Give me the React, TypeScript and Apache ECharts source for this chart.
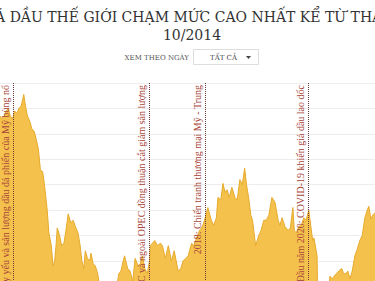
import React, { useEffect, useRef } from "react";
import * as echarts from "echarts";

const titleLines = ["GIÁ DẦU THẾ GIỚI CHẠM MỨC CAO NHẤT KỂ TỪ THÁNG", "10/2014"];
const filterLabel = "XEM THEO NGÀY";
const filterValue = "TẤT CẢ";

const dates = [
  "2014-01-01","2014-01-15","2014-02-01","2014-02-15","2014-03-01","2014-03-15","2014-04-01","2014-04-15","2014-05-01","2014-05-15","2014-06-01","2014-06-19","2014-07-01","2014-07-15","2014-08-01","2014-08-15","2014-09-01","2014-09-15","2014-10-01","2014-10-15","2014-11-01","2014-11-15","2014-12-01","2014-12-15",
  "2015-01-01","2015-01-13","2015-01-25","2015-02-05","2015-02-12","2015-03-01","2015-03-15","2015-04-01","2015-04-15","2015-05-01","2015-05-20","2015-06-05","2015-06-25","2015-07-10","2015-07-25","2015-08-06","2015-08-20","2015-08-31","2015-09-15","2015-10-01","2015-10-10","2015-10-25","2015-11-10","2015-11-27","2015-12-10","2015-12-22",
  "2016-01-05","2016-01-20","2016-02-05","2016-02-15","2016-03-01","2016-03-22","2016-04-05","2016-04-25","2016-05-10","2016-05-26","2016-06-05","2016-06-27","2016-07-14","2016-08-02","2016-08-19","2016-09-10","2016-09-25","2016-10-10","2016-10-27","2016-11-14","2016-11-30","2016-12-05","2016-12-20",
  "2017-01-06","2017-01-25","2017-02-15","2017-03-01","2017-03-22","2017-04-12","2017-05-04","2017-05-24","2017-06-21","2017-07-10","2017-07-26","2017-08-15","2017-08-31","2017-09-25","2017-10-10","2017-11-03","2017-11-20","2017-12-10","2017-12-28",
  "2018-01-18","2018-02-12","2018-03-01","2018-03-20","2018-03-31","2018-04-20","2018-05-06","2018-05-20","2018-06-04","2018-06-20","2018-07-08","2018-07-30","2018-08-15","2018-09-03","2018-09-20","2018-10-07","2018-10-20","2018-11-04","2018-11-20","2018-12-02","2018-12-24",
  "2019-01-15","2019-02-01","2019-02-20","2019-03-10","2019-03-28","2019-04-19","2019-05-11","2019-06-02","2019-06-15","2019-06-30","2019-07-21","2019-08-12","2019-08-28","2019-09-15","2019-09-25","2019-10-10","2019-10-26","2019-11-15","2019-12-01","2019-12-18",
  "2020-01-06","2020-01-22","2020-02-03","2020-02-12","2020-03-05","2020-03-09","2020-03-18","2020-04-01","2020-04-21","2020-05-05","2020-05-20","2020-06-05","2020-06-20","2020-07-05","2020-07-20","2020-08-05","2020-08-15","2020-08-28","2020-09-10","2020-09-25","2020-10-10","2020-10-25","2020-11-10","2020-11-29","2020-12-15",
  "2021-01-03","2021-01-20","2021-02-08","2021-02-25","2021-03-08","2021-03-23","2021-04-05","2021-04-21"
];

const prices = [
  107,106,107,109,110,107,106,109,108,110,111,115.5,111,107,105,102,101,98,94,86,85,79,71,61,
  56,48,50,57,63,60,56,57,62,68.5,65,66,63,61,56,50,47,54,51,50,53,49,48,45,40,36,
  35,28,34,33,37,41,38,45,46,50,52,47,46,42,51,48,49,52,47,45,50.5,56,57,
  58,56,57,56,51,56,50,54,46,47,50,51,52,57,56,59.5,62,63.5,66.5,
  71,66,64,67,75,74,80.5,77,78,75,79,75,74,82,80,86.5,80,75,68,66,56,
  60,62,66,66,68,75,73,66,64,67,63.5,62,63,71,62,61,63.5,64,67,66,
  70,63,58,59,52,36,27,25,21,30,36,44,43,44,45,46,46.5,47,45,45,46,43,46,52,54.5,
  58,60,67,70,71.5,66.5,68,69
];

const events = [
  { date: "2014-04-05", text: "Nhu cầu suy yếu và sản lượng dầu đá phiến của Mỹ bùng nổ" },
  { date: "2016-11-30", text: "OPEC và ngoài OPEC đồng thuận cắt giảm sản lượng" },
  { date: "2018-01-01", text: "2018: Chiến tranh thương mại Mỹ - Trung" },
  { date: "2020-01-01", text: "Đầu năm 2020: COVID-19 khiến giá dầu lao dốc" },
];

const xMin = "2014-01-01";
const xMax = "2021-04-21";

export default function App() {
  const ref = useRef<HTMLDivElement>(null);
  useEffect(() => {
    if (!ref.current) return;
    const chart = echarts.init(ref.current, null, { renderer: "svg" });
    const serif = '"DejaVu Serif", serif';
    chart.setOption({
      animation: false,
      backgroundColor: "#fff",
      grid: { left: 0, right: 0, top: 83, height: 305 },
      xAxis: {
        type: "time",
        min: xMin,
        max: xMax,
        axisLine: { show: false },
        axisTick: { show: false },
        axisLabel: { show: false },
        splitLine: { show: false },
      },
      yAxis: {
        type: "value",
        min: 0,
        max: 120,
        interval: 10,
        axisLine: { show: false },
        axisTick: { show: false },
        axisLabel: { show: false },
        splitLine: { lineStyle: { color: "#ededed", width: 1 } },
      },
      series: [
        {
          type: "line",
          data: dates.map((d, i) => [d, prices[i]]),
          showSymbol: false,
          symbol: "none",
          lineStyle: { color: "#e6aa2c", width: 1 },
          areaStyle: { color: "#f4c14c", opacity: 1 },
          markLine: {
            silent: true,
            symbol: ["none", "none"],
            lineStyle: { type: "dotted", color: "#6e3a36", width: 1 },
            label: {
              position: "insideEndTop",
              distance: [2, 3],
              color: "#a8443a",
              fontFamily: '"Liberation Serif", serif',
              fontSize: 10,
              formatter: (p: any) => p.name,
            },
            data: events.map((e) => ({ name: e.text, xAxis: e.date })),
          },
        },
      ],
      graphic: [
        {
          type: "text",
          style: {
            text: titleLines[0],
            x: 192,
            y: 16.5,
            align: "center",
            verticalAlign: "middle",
            fontSize: 14,
            fontFamily: serif,
            fill: "#333",
          },
        },
        {
          type: "text",
          style: {
            text: titleLines[1],
            x: 192,
            y: 35,
            align: "center",
            verticalAlign: "middle",
            fontSize: 14,
            fontFamily: serif,
            fill: "#333",
          },
        },
        {
          type: "text",
          style: {
            text: filterLabel,
            x: 189,
            y: 57.5,
            align: "right",
            verticalAlign: "middle",
            fontSize: 7,
            fontFamily: serif,
            fill: "#555",
          },
        },
        {
          type: "rect",
          shape: { x: 193.5, y: 49.5, width: 65, height: 15 },
          style: { fill: "#fff", stroke: "#dddddd", lineWidth: 1 },
        },
        {
          type: "text",
          style: {
            text: filterValue,
            x: 223.5,
            y: 57.5,
            align: "center",
            verticalAlign: "middle",
            fontSize: 7,
            fontFamily: serif,
            fill: "#444",
          },
        },
        {
          type: "polygon",
          shape: { points: [[246, 56], [251, 56], [248.5, 59]] },
          style: { fill: "#444" },
        },
      ],
    });
    return () => chart.dispose();
  }, []);
  return (
    <div
      ref={ref}
      style={{ position: "absolute", left: 0, top: 0, width: 375, height: 400 }}
    />
  );
}
